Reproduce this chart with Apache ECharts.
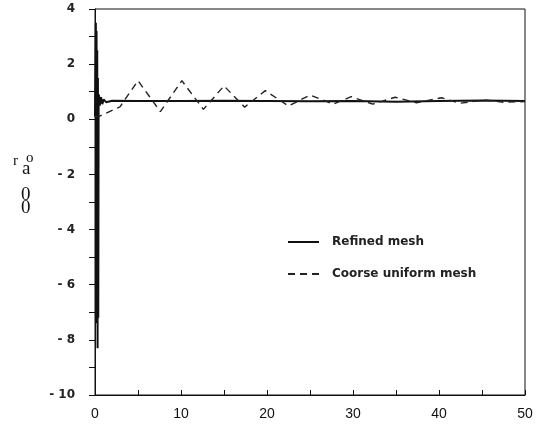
<!DOCTYPE html>
<html><head><meta charset="utf-8">
<script src="https://cdn.jsdelivr.net/npm/echarts@6/dist/echarts.min.js"></script>
<style>html,body{margin:0;padding:0;background:#fff}#c{width:538px;height:427px}</style>
</head><body><div id="c"></div>
<script>
// Refined mesh (solid)
const refinedX = [0, 0.1, 0.14, 0.18, 0.22, 0.26, 0.3, 0.34, 0.38, 0.42, 0.46, 0.55, 0.7, 0.85, 1.0, 1.3, 2, 5, 10, 15, 20, 25, 30, 35, 40, 45, 50];
const refinedY = [0.1, 3.5, -7.0, 3.2, -7.4, 2.5, -8.3, 1.5, -7.2, 0.4, 0.9, 0.5, 0.8, 0.55, 0.72, 0.62, 0.67, 0.66, 0.66, 0.67, 0.66, 0.65, 0.66, 0.64, 0.66, 0.68, 0.66];
// Coarse uniform mesh (dashed)
const coarseX = [0, 0.4, 2.9, 5.0, 7.6, 10.1, 12.6, 15.0, 17.4, 19.8, 22.5, 25.0, 27.7, 29.8, 32.3, 34.9, 37.4, 40.3, 42.4, 45.3, 47.5, 50];
const coarseY = [0.1, 0.1, 0.45, 1.40, 0.28, 1.40, 0.36, 1.21, 0.44, 1.04, 0.48, 0.88, 0.55, 0.82, 0.55, 0.80, 0.60, 0.78, 0.58, 0.70, 0.62, 0.64];
const seriesNames = ['Refined mesh', 'Coorse uniform mesh'];

const chart = echarts.init(document.getElementById('c'), null, {renderer: 'canvas'});
chart.setOption({
  animation: false,
  backgroundColor: '#fff',
  grid: {left: 95, right: 13, top: 9, bottom: 32, show: true, borderColor: '#111', borderWidth: 1, backgroundColor: 'transparent'},
  legend: {
    orient: 'vertical', left: 282, top: 231, itemWidth: 31, itemHeight: 14, itemGap: 20,
    data: seriesNames,
    itemStyle: {opacity: 0},
    textStyle: {fontFamily: 'DejaVu Sans', fontWeight: 'bold', fontSize: 12, color: '#222', padding: [0, 0, 0, 8]}
  },
  xAxis: {
    type: 'value', min: 0, max: 50, interval: 5,
    axisLine: {onZero: false, lineStyle: {color: '#111', width: 1}},
    axisTick: {inside: true, length: 5, lineStyle: {color: '#111'}},
    splitLine: {show: false},
    axisLabel: {margin: 12, fontFamily: 'Liberation Sans', fontSize: 14, color: '#111',
      formatter: v => (v % 10 === 0 ? String(v) : '')}
  },
  yAxis: {
    type: 'value', min: -10, max: 4, interval: 1,
    axisLine: {onZero: false, lineStyle: {color: '#111', width: 1}},
    axisTick: {inside: false, length: 6, lineStyle: {color: '#111'}},
    splitLine: {show: false},
    axisLabel: {margin: 20, fontFamily: 'DejaVu Sans', fontWeight: 'bold', fontSize: 12, color: '#222',
      formatter: v => (v % 2 !== 0 ? '' : (v < 0 ? '- ' + (-v) : String(v)))}
  },
  graphic: [
    {type: 'text', left: 13, top: 154, style: {text: 'r', font: '15px "Liberation Serif"', fill: '#111'}},
    {type: 'text', left: 26, top: 151, style: {text: 'o', font: '15px "Liberation Serif"', fill: '#111'}},
    {type: 'text', left: 22, top: 160, style: {text: 'a', font: '19px "Liberation Serif"', fill: '#111'}},
    {type: 'text', left: 21, top: 186, style: {text: '0', font: '19px "Liberation Serif"', fill: '#111'}},
    {type: 'text', left: 21, top: 199, style: {text: '0', font: '19px "Liberation Serif"', fill: '#111'}}
  ],
  series: [
    {name: seriesNames[0], type: 'line', symbol: 'none', color: '#111',
      lineStyle: {color: '#111', width: 2, type: 'solid'},
      data: refinedX.map((x, i) => [x, refinedY[i]])},
    {name: seriesNames[1], type: 'line', symbol: 'none', color: '#222',
      lineStyle: {color: '#222', width: 1.4, type: [7, 5]},
      data: coarseX.map((x, i) => [x, coarseY[i]])}
  ]
});
</script></body></html>
